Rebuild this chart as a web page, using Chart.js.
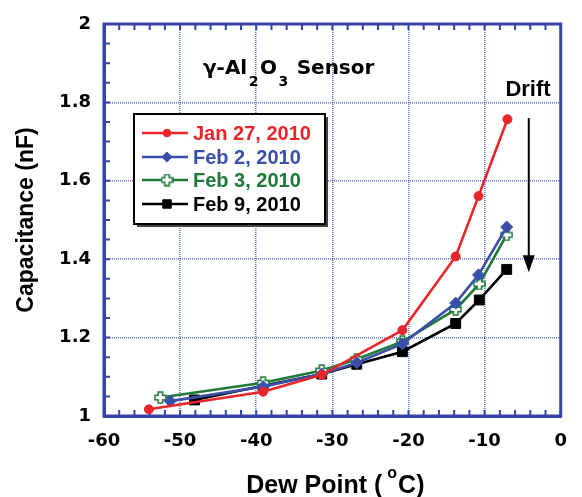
<!DOCTYPE html>
<html><head><meta charset="utf-8">
<script src="https://cdn.jsdelivr.net/npm/chart.js@4/dist/chart.umd.min.js"></script>
<style>html,body{margin:0;padding:0;background:#fff}#wrap{width:582px;height:497px}</style>
</head><body><div id="wrap"><canvas id="c" width="582" height="497"></canvas></div>
<script>
// ---- data ----
const seriesLabels = ['Jan 27, 2010', 'Feb 2, 2010', 'Feb 3, 2010', 'Feb 9, 2010'];
const janX  = [-54.1, -39.1, -31.4, -20.8, -13.8, -10.8, -7.0];
const janY  = [1.017, 1.062, 1.105, 1.219, 1.407, 1.561, 1.757];
const feb2X = [-51.3, -39.1, -31.4, -26.8, -20.8, -13.8, -10.8, -7.1];
const feb2Y = [1.038, 1.075, 1.107, 1.136, 1.184, 1.288, 1.360, 1.482];
const feb3X = [-52.6, -39.1, -31.4, -26.8, -20.8, -13.8, -10.7, -7.1];
const feb3Y = [1.047, 1.085, 1.116, 1.145, 1.190, 1.272, 1.337, 1.462];
const feb9X = [-48.1, -39.1, -31.4, -26.8, -20.8, -13.8, -10.7, -7.1];
const feb9Y = [1.041, 1.077, 1.107, 1.132, 1.164, 1.236, 1.296, 1.374];
const xTicks = [-60, -50, -40, -30, -20, -10, 0];
const yTicks = [1, 1.2, 1.4, 1.6, 1.8, 2];
const xMinorStep = 2;
const yMinorStep = 0.05;
const titleText = ['γ-Al', '2', 'O', '3', ' Sensor'];
const xTitle = ['Dew Point (', 'o', 'C)'];
const yTitle = 'Capacitance (nF)';
const driftText = 'Drift';
const titleAnchor = [-47, 1.872];
const driftAnchor = [-4.3, 1.816];
const arrowFrom = [-4.2, 1.76];
const arrowTo = [-4.2, 1.367];

const colors = ['#e8262a', '#3a4fa8', '#1f7a3a', '#000000'];
const AXIS = '#3545a5';

function pts(xs, ys) { return xs.map((x, i) => ({x: x, y: ys[i]})); }

function plusCanvas(size, arm, fill, stroke) {
  const c = document.createElement('canvas');
  c.width = c.height = size;
  const g = c.getContext('2d');
  const m = size / 2, a = arm / 2, h = size / 2 - 1;
  const p = [[m-a,m-h],[m+a,m-h],[m+a,m-a],[m+h,m-a],[m+h,m+a],[m+a,m+a],[m+a,m+h],[m-a,m+h],[m-a,m+a],[m-h,m+a],[m-h,m-a],[m-a,m-a]];
  g.beginPath();
  p.forEach((q, i) => i ? g.lineTo(q[0], q[1]) : g.moveTo(q[0], q[1]));
  g.closePath();
  g.fillStyle = fill; g.fill();
  g.lineWidth = 1.6; g.strokeStyle = stroke; g.stroke();
  return c;
}
const greenPlus = plusCanvas(13, 4.5, '#ffffff', colors[2]);

const datasets = [
  {label: seriesLabels[0], data: pts(janX, janY), borderColor: colors[0], backgroundColor: colors[0], pointStyle: 'circle', pointRadius: 4.5, pointBorderWidth: 1},
  {label: seriesLabels[1], data: pts(feb2X, feb2Y), borderColor: colors[1], backgroundColor: colors[1], pointStyle: 'rectRot', pointRadius: 6, pointBorderWidth: 1},
  {label: seriesLabels[2], data: pts(feb3X, feb3Y), borderColor: colors[2], backgroundColor: colors[2], pointStyle: greenPlus, pointRadius: 6, pointBorderWidth: 1},
  {label: seriesLabels[3], data: pts(feb9X, feb9Y), borderColor: colors[3], backgroundColor: colors[3], pointStyle: 'rect', pointRadius: 7, pointBorderWidth: 1}
].map(d => Object.assign(d, {borderWidth: 2.6, showLine: true, tension: 0, clip: false, pointHoverRadius: d.pointRadius}));

const tickFont = {family: 'DejaVu Sans', size: 18, weight: 'bold'};
const fmt = v => String(Math.round(v * 10) / 10);

const decor = {
  id: 'decor',
  beforeDatasetsDraw(chart) {
    const ctx = chart.ctx, a = chart.chartArea, xs = chart.scales.x, ys = chart.scales.y;
    ctx.save();
    ctx.strokeStyle = AXIS; ctx.lineWidth = 2;
    ctx.beginPath();
    for (let v = xs.min; v <= xs.max + 1e-9; v += xMinorStep) {
      const px = xs.getPixelForValue(v);
      ctx.moveTo(px, a.bottom); ctx.lineTo(px, a.bottom - 6);
      ctx.moveTo(px, a.top); ctx.lineTo(px, a.top + 6);
    }
    for (let v = ys.min; v <= ys.max + 1e-9; v += yMinorStep) {
      const py = ys.getPixelForValue(v);
      ctx.moveTo(a.left, py); ctx.lineTo(a.left + 6, py);
    }
    ctx.stroke();
    ctx.lineWidth = 3;
    ctx.strokeRect(a.left, a.top, a.right - a.left, a.bottom - a.top);
    ctx.restore();
  },
  afterDatasetsDraw(chart) {
    const ctx = chart.ctx, a = chart.chartArea, xs = chart.scales.x, ys = chart.scales.y;
    const X = v => xs.getPixelForValue(v), Y = v => ys.getPixelForValue(v);
    ctx.save();
    // title with subscripts
    let tx = X(titleAnchor[0]);
    const ty = Y(titleAnchor[1]);
    ctx.fillStyle = '#000'; ctx.textBaseline = 'alphabetic'; ctx.textAlign = 'left';
    titleText.forEach((t, i) => {
      const sub = (i === 1 || i === 3);
      ctx.font = sub ? 'bold 14px "DejaVu Sans"' : 'bold 20px "DejaVu Sans"';
      ctx.fillText(t, tx, ty + (sub ? 12 : 0));
      tx += ctx.measureText(t).width + 1.5;
    });
    // Drift + arrow
    ctx.font = 'bold 22px "Liberation Sans", Arial';
    ctx.textAlign = 'center';
    ctx.fillText(driftText, X(driftAnchor[0]), Y(driftAnchor[1]));
    const ax = X(arrowFrom[0]), ay0 = Y(arrowFrom[1]), ay1 = Y(arrowTo[1]);
    ctx.strokeStyle = '#000'; ctx.lineWidth = 2;
    ctx.beginPath(); ctx.moveTo(ax, ay0); ctx.lineTo(ax, ay1 - 12); ctx.stroke();
    ctx.beginPath(); ctx.moveTo(ax - 6, ay1 - 17); ctx.lineTo(ax + 6, ay1 - 17); ctx.lineTo(ax, ay1); ctx.closePath(); ctx.fill();
    // legend
    const lx = a.left + 30, lt = a.top + 90, lw = 191, lh = 110;
    ctx.fillStyle = '#444'; ctx.fillRect(lx + 3, lt + 3, lw, lh);
    ctx.fillStyle = '#fff'; ctx.fillRect(lx, lt, lw, lh);
    ctx.strokeStyle = '#000'; ctx.lineWidth = 2; ctx.strokeRect(lx, lt, lw, lh);
    ctx.textAlign = 'left'; ctx.textBaseline = 'middle';
    ctx.font = 'bold 20px "Liberation Sans", Arial';
    const rowY = [19, 43, 66, 90];
    chart.data.datasets.forEach((d, i) => {
      const y = lt + rowY[i];
      ctx.strokeStyle = d.borderColor; ctx.lineWidth = 2.6;
      ctx.beginPath(); ctx.moveTo(lx + 8, y); ctx.lineTo(lx + 54, y); ctx.stroke();
      ctx.fillStyle = d.backgroundColor; ctx.strokeStyle = d.borderColor; ctx.lineWidth = 1;
      Chart.helpers.drawPoint(ctx, {pointStyle: d.pointStyle, rotation: 0, borderWidth: 1, radius: d.pointRadius * 0.85}, lx + 33, y);
      ctx.fillStyle = d.borderColor;
      ctx.fillText(d.label, lx + 59, y + 1);
    });
    ctx.restore();
  },
  afterDraw(chart) {
    const ctx = chart.ctx, a = chart.chartArea;
    ctx.save();
    ctx.fillStyle = '#000'; ctx.textBaseline = 'alphabetic'; ctx.textAlign = 'left';
    // x title with superscript
    const f1 = 'bold 25px "Liberation Sans", Arial', f2 = 'bold 16px "Liberation Sans", Arial';
    ctx.font = f1; const w1 = ctx.measureText(xTitle[0]).width, w3 = ctx.measureText(xTitle[2]).width;
    ctx.font = f2; const w2 = ctx.measureText(xTitle[1]).width;
    const total = w1 + 5 + w2 + 1 + w3;
    const sx = (a.left + a.right) / 2 - total / 2 + 3;
    const base = 493;
    ctx.font = f1; ctx.fillText(xTitle[0], sx, base);
    ctx.font = f2; ctx.fillText(xTitle[1], sx + w1 + 5, base - 15);
    ctx.font = f1; ctx.fillText(xTitle[2], sx + w1 + 5 + w2 + 1, base);
    // y title
    ctx.translate(33, (a.top + a.bottom) / 2);
    ctx.rotate(-Math.PI / 2);
    ctx.textAlign = 'center';
    ctx.font = 'bold 23px "Liberation Sans", Arial';
    ctx.fillText(yTitle, 0, 0);
    ctx.restore();
  }
};

new Chart(document.getElementById('c'), {
  type: 'scatter',
  data: {datasets: datasets},
  options: {
    responsive: false, animation: false, devicePixelRatio: 1,
    layout: {padding: {top: 24, right: 10, left: 0, bottom: 0}},
    plugins: {legend: {display: false}, tooltip: {enabled: false}, title: {display: false}},
    scales: {
      x: {
        type: 'linear', min: -60, max: 0,
        afterBuildTicks: s => { s.ticks = xTicks.map(v => ({value: v})); },
        afterFit: s => { s.height = 81; },
        ticks: {font: tickFont, color: '#000', padding: 15, maxRotation: 0, autoSkip: false, callback: fmt},
        grid: {color: 'rgba(70,90,195,0.8)', lineWidth: 1.6, drawTicks: false},
        border: {color: AXIS, width: 3, dash: [1, 1]}
      },
      y: {
        type: 'linear', min: 1, max: 2,
        afterBuildTicks: s => { s.ticks = yTicks.map(v => ({value: v})); },
        afterFit: s => { s.width = 104; },
        ticks: {font: tickFont, color: '#000', padding: 13, autoSkip: false, callback: fmt},
        grid: {color: 'rgba(70,90,195,0.8)', lineWidth: 1.6, drawTicks: false},
        border: {color: AXIS, width: 3, dash: [1, 1]}
      }
    }
  },
  plugins: [decor]
});
</script>
</body></html>
